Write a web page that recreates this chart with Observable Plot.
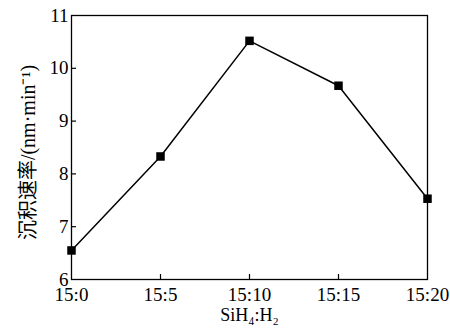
<!DOCTYPE html>
<html>
<head>
<meta charset="utf-8">
<script src="https://cdn.jsdelivr.net/npm/d3@7"></script>
<script src="https://cdn.jsdelivr.net/npm/@observablehq/plot@0.6"></script>
<style>
  html, body { margin: 0; padding: 0; background: #fff; }
</style>
</head>
<body>
<div id="chart"></div>
<script>
const ratios = ["15:0", "15:5", "15:10", "15:15", "15:20"];
const rates = [6.55, 8.33, 10.52, 9.67, 7.53];
const yTicks = [6, 7, 8, 9, 10, 11];
const yInnerTicks = [7, 8, 9, 10];
const xInnerTicks = ["15:5", "15:10", "15:15"];
const xLabel = "SiH\u2084:H\u2082";
const yLabel = "沉积速率/(nm·min\u207B\u00B9)";

const data = ratios.map((r, i) => ({ratio: r, rate: rates[i]}));

const chart = Plot.plot({
  width: 450,
  height: 330,
  marginLeft: 71,
  marginRight: 23,
  marginTop: 15,
  marginBottom: 51,
  style: {
    fontFamily: "'Liberation Serif', 'Noto Sans CJK SC', serif",
    fontSize: "19px",
    color: "black",
    background: "white"
  },
  x: {type: "point", domain: ratios, padding: 0},
  y: {domain: [6, 11]},
  marks: [
    Plot.frame({stroke: "black", strokeWidth: 1.3}),
    Plot.axisX(ratios, {tickSize: 0, tickPadding: 8, label: null, fontSize: 19}),
    Plot.axisX(xInnerTicks, {tickSize: -5, text: null, label: null, strokeWidth: 1.2}),
    Plot.axisY(yTicks, {tickSize: 0, tickPadding: 3, tickFormat: "d", label: null, fontSize: 19}),
    Plot.axisY(yInnerTicks, {tickSize: -5, text: null, label: null, strokeWidth: 1.2}),
    Plot.line(data, {x: "ratio", y: "rate", stroke: "black", strokeWidth: 1.5}),
    Plot.dot(data, {x: "ratio", y: "rate", symbol: "square", r: 4.8, fill: "black", stroke: null}),
    Plot.text([xLabel], {frameAnchor: "bottom", textAnchor: "middle", dy: 41, fontSize: 18, fill: "black"}),
    Plot.text([yLabel], {frameAnchor: "left", textAnchor: "middle", rotate: -90, dx: -43, dy: 5, fontSize: 20, fill: "black"})
  ]
});
document.getElementById("chart").appendChild(chart);
</script>
</body>
</html>
